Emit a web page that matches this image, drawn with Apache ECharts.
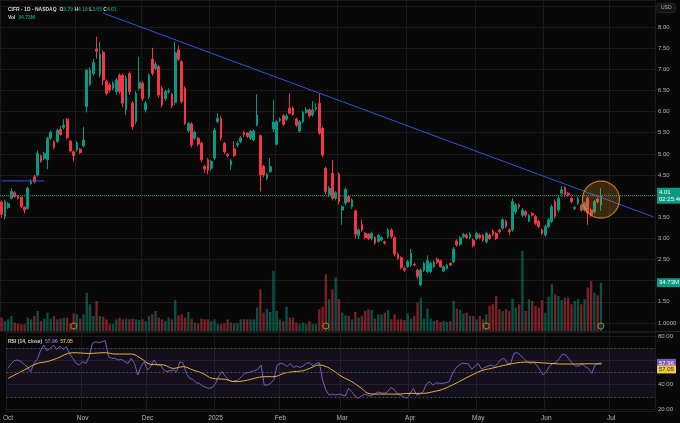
<!DOCTYPE html>
<html><head><meta charset="utf-8">
<script src="https://cdn.jsdelivr.net/npm/echarts@6/dist/echarts.min.js"></script>
<style>html,body{margin:0;padding:0;background:#080808;}#c{width:680px;height:423px;}</style>
</head><body><div id="c"></div>
<script>
// trading days per month (last groups include empty future slots on the time scale)
const monthDays = [
 ['2024-10','1 2 3 4 7 8 9 10 11 14 15 16 17 18 21 22 23 24 25 28 29 30 31'],
 ['2024-11','1 4 5 6 7 8 11 12 13 14 15 18 19 20 21 22 25 26 27 29'],
 ['2024-12','2 3 4 5 6 9 10 11 12 13 16 17 18 19 20 23 24 26 27 30 31'],
 ['2025-01','2 3 6 7 8 10 13 14 15 16 17 21 22 23 24 27 28 29 30 31'],
 ['2025-02','3 4 5 6 7 10 11 12 13 14 18 19 20 21 24 25 26 27 28'],
 ['2025-03','3 4 5 6 7 10 11 12 13 14 17 18 19 20 21 24 25 26 27 28 31'],
 ['2025-04','1 2 3 4 7 8 9 10 11 14 15 16 17 21 22 23 24 25 28 29 30'],
 ['2025-05','1 2 5 6 7 8 9 12 13 14 15 16 19 20 21 22 23 27 28 29 30'],
 ['2025-06','2 3 4 5 6 9 10 11 12 13 16 17 18 20 23 24 25 26 27 30'],
 ['2025-07','1 2 3 7 8 9 10 11 14 15 16 17 18 21']
];
const openP = [3.86,3.52,3.73,3.95,4.08,3.99,3.97,3.74,3.71,4.30,4.46,4.50,4.95,4.89,4.86,5.37,5.29,5.29,5.58,5.62,
5.82,5.30,5.05,5.09,5.11,5.19,6.12,6.64,6.90,7.48,6.87,7.40,6.72,6.63,6.55,6.47,6.86,6.86,6.04,6.90,
6.20,5.76,6.55,6.67,6.04,6.35,7.24,7.02,7.06,6.55,6.31,6.47,6.41,6.22,7.46,7.18,6.55,5.55,5.71,5.37,
5.37,5.25,4.70,4.86,4.66,4.90,5.76,5.84,5.25,4.99,4.74,5.12,5.21,5.29,5.51,5.49,5.37,5.33,5.68,5.43,
4.70,4.42,4.58,5.59,5.23,5.79,5.90,5.82,6.08,6.08,5.82,5.54,5.76,5.98,6.04,5.92,6.06,6.20,5.60,4.66,
4.03,4.54,3.95,4.52,3.67,3.83,3.99,3.75,3.65,3.07,3.33,3.12,3.10,3.00,3.02,2.93,2.96,2.92,3.04,3.20,
3.02,2.63,2.55,2.29,2.33,2.37,2.39,2.25,1.90,2.25,2.22,2.22,2.33,2.51,2.47,2.23,2.29,2.41,2.45,2.94,
2.86,3.04,3.08,3.02,2.96,3.00,3.08,3.07,2.92,3.08,3.18,3.12,3.20,3.24,3.41,3.20,3.20,3.63,3.79,3.55,
3.63,3.41,3.59,3.52,3.40,3.20,3.08,3.28,3.40,3.87,3.67,4.07,4.20,4.07,3.95,3.71,3.83,3.79,3.67,3.95,
3.67,3.63,3.93,3.79];
const closeP = [3.57,3.87,3.82,4.11,3.99,3.95,3.75,3.67,4.19,4.34,4.34,5.01,4.82,5.01,5.37,5.51,5.15,5.56,5.46,5.68,
5.38,5.07,4.96,5.26,5.03,5.33,6.98,6.98,7.16,7.43,7.35,6.75,6.43,6.51,6.67,6.75,6.47,6.20,6.79,6.47,
5.64,6.43,6.69,6.31,6.20,6.86,6.90,7.12,6.39,6.16,6.47,6.49,6.13,7.39,7.24,6.24,5.72,5.72,5.21,5.51,
5.23,4.86,4.64,4.62,4.82,5.56,5.84,5.37,5.05,4.96,4.83,4.96,5.25,5.38,5.45,5.41,5.53,5.54,5.92,4.50,
4.50,4.52,4.70,5.75,5.76,5.82,5.70,5.90,5.96,5.93,5.68,5.76,5.98,6.04,5.90,6.04,6.09,5.49,4.97,4.11,
4.19,3.95,4.08,3.87,3.75,4.16,3.87,3.91,3.10,3.20,3.20,3.02,3.00,3.12,2.89,3.07,3.02,2.89,3.20,3.04,
2.63,2.53,2.31,2.25,2.45,2.65,2.37,2.10,2.25,2.41,2.47,2.41,2.44,2.44,2.33,2.33,2.37,2.37,2.75,2.85,
3.02,3.10,3.02,3.10,2.83,3.12,3.02,2.96,3.12,3.00,3.10,3.00,3.16,3.44,3.28,3.16,3.87,3.79,3.75,3.67,
3.55,3.54,3.55,3.36,3.28,3.12,3.28,3.44,3.75,3.52,3.95,4.15,4.03,4.03,3.87,3.73,3.95,3.67,3.83,3.60,
3.55,3.87,3.87,4.01];
const highP = [3.90,3.92,3.86,4.19,4.12,4.02,4.00,3.76,4.22,4.40,4.50,5.08,4.98,5.05,5.40,5.55,5.32,5.60,5.66,5.82,
5.85,5.33,5.08,5.30,5.14,5.64,7.00,7.05,7.25,7.77,7.65,7.45,6.76,6.68,6.72,6.80,6.90,6.90,6.85,6.95,
6.25,6.48,7.30,6.72,6.25,6.90,7.51,7.18,7.10,6.60,6.52,6.55,6.45,7.65,7.56,7.22,6.60,5.76,5.75,5.55,
5.40,5.28,4.74,4.90,4.86,5.62,5.96,5.90,5.28,5.02,4.88,5.30,5.30,5.42,5.55,5.52,5.56,5.58,6.41,5.46,
4.74,4.56,4.90,6.27,5.80,5.86,5.94,5.95,6.43,6.12,5.86,5.80,6.02,6.10,6.08,6.25,6.20,6.43,5.64,4.70,
4.24,4.85,4.12,4.56,3.78,4.20,4.02,3.95,3.68,3.24,3.45,3.15,3.13,3.16,3.05,3.10,3.05,2.95,3.24,3.24,
3.05,2.66,2.58,2.33,2.49,2.75,2.43,2.28,2.29,2.45,2.60,2.45,2.48,2.55,2.50,2.36,2.40,2.44,2.80,2.98,
3.05,3.13,3.12,3.14,3.00,3.16,3.12,3.10,3.16,3.12,3.22,3.15,3.23,3.48,3.45,3.24,3.95,3.84,3.83,3.72,
3.67,3.58,3.62,3.56,3.44,3.24,3.32,3.48,3.80,3.92,4.00,4.24,4.24,4.10,3.99,3.77,3.99,3.83,3.87,3.99,
3.71,3.91,3.97,4.19];
const lowP = [3.49,3.45,3.70,3.92,3.96,3.92,3.72,3.59,3.68,4.27,4.30,4.46,4.79,4.85,4.64,5.33,5.10,5.25,5.43,5.58,
5.35,5.03,4.82,5.05,5.00,5.15,5.98,6.60,6.85,7.25,6.80,6.63,6.38,6.45,6.50,6.40,6.42,6.10,5.92,6.40,
5.58,5.70,6.50,6.25,5.98,6.30,6.85,6.98,6.33,6.10,6.25,6.42,6.08,6.15,7.20,6.20,5.68,5.50,5.15,5.33,
5.18,4.80,4.55,4.52,4.60,4.85,5.72,5.32,5.00,4.92,4.62,4.92,5.15,5.25,5.40,5.38,5.33,5.30,5.65,4.11,
4.45,4.38,4.55,5.52,5.20,5.75,5.66,5.78,5.93,5.90,5.64,5.50,5.72,5.95,5.86,5.88,6.02,5.45,4.92,4.05,
3.98,3.90,3.90,3.80,3.32,3.78,3.84,3.70,3.00,2.98,3.16,2.98,2.96,2.96,2.85,2.90,2.93,2.85,3.00,3.00,
2.58,2.49,2.27,2.20,2.30,2.33,2.34,2.04,1.86,2.21,2.18,2.18,2.30,2.40,2.30,2.20,2.26,2.34,2.42,2.80,
2.82,3.00,2.99,2.98,2.79,2.96,2.98,2.92,2.88,2.96,3.06,2.96,3.12,3.20,3.24,3.08,3.16,3.58,3.70,3.50,
3.50,3.38,3.52,3.32,3.24,3.08,3.04,3.24,3.36,3.48,3.62,4.02,3.99,3.99,3.83,3.67,3.79,3.63,3.63,3.32,
3.51,3.59,3.83,3.65];
const volumeM = [9.6,7.2,8.4,10.8,6.0,5.3,4.8,4.8,9.6,8.4,10.8,14.4,7.2,8.9,13.2,8.9,10.8,8.4,8.9,9.6,
9.6,5.3,12.7,12.0,8.9,12.0,27.6,19.2,10.8,21.6,10.8,10.3,8.4,4.8,5.3,8.4,9.6,
8.4,8.9,8.4,8.9,8.4,7.9,8.4,7.2,10.8,12.0,14.4,9.6,8.4,7.2,9.6,8.4,22.3,11.3,12.0,9.6,13.7,8.9,6.0,5.3,
8.9,8.4,8.4,7.2,8.4,4.8,4.8,5.5,8.4,6.0,5.5,5.5,8.4,
8.4,8.4,8.4,8.4,16.8,30.0,13.2,16.1,13.7,43.2,14.4,8.4,7.2,17.5,9.6,9.6,6.0,4.8,6.0,4.8,7.2,4.8,4.8,
15.6,17.5,40.8,22.8,30.0,38.4,22.8,13.2,11.3,10.8,8.4,13.7,9.6,11.0,
14.4,15.6,15.1,8.9,12.0,12.0,13.2,15.1,8.4,12.0,8.4,8.4,7.9,12.7,8.9,10.8,20.4,24.0,8.9,16.1,8.9,7.2,
7.9,6.5,7.2,6.5,7.2,21.6,16.1,15.1,12.7,13.2,10.8,10.8,8.4,
10.8,8.4,12.0,18.0,19.2,25.2,15.6,14.4,15.6,14.4,23.3,16.8,19.2,57.6,14.4,22.8,21.6,18.0,16.8,22.3,
13.2,24.7,33.6,26.4,25.2,22.3,24.0,24.0,19.2,21.6,22.8,19.2,22.8,31.2,36.0,27.6,25.7,34.73];
const rsiValues = [53.4,57.5,59.7,60.3,58.9,56.7,54.2,50.7,57.5,60.8,
67.9,72.6,67.9,69.9,72.6,69.0,71.8,69.0,71.2,65.2,
61.6,57.5,56.2,58.9,57.5,63.0,74.0,75.3,74.5,75.3,
76.2,63.0,61.6,61.6,60.3,60.8,58.9,57.5,61.6,57.5,
48.0,54.8,58.9,52.1,54.8,60.3,56.2,56.2,52.1,50.7,
51.5,52.1,50.7,58.9,57.5,49.3,45.2,44.4,41.6,41.1,
38.9,37.8,37.0,37.8,41.1,47.1,50.7,47.1,43.8,42.5,
43.3,43.8,46.6,49.3,49.9,50.7,51.5,52.6,56.2,39.7,
39.7,41.1,44.4,56.2,57.5,57.0,54.8,57.5,54.2,55.3,
54.2,55.3,57.5,58.1,55.3,57.5,58.1,43.8,35.6,31.5,
32.3,31.5,32.3,31.5,30.7,37.0,34.2,30.7,28.8,30.7,
32.3,31.2,30.7,32.3,34.0,33.4,32.9,34.0,37.8,36.2,
32.9,31.2,30.1,28.8,32.9,37.0,31.5,32.3,34.2,40.5,
42.5,39.7,41.6,41.1,41.1,41.6,42.5,48.8,53.4,55.9,
57.5,57.5,57.0,52.6,55.3,57.5,52.6,54.2,55.3,56.2,
54.8,57.5,60.8,61.6,57.5,57.5,65.7,66.3,64.4,61.6,
58.9,57.5,58.3,56.2,52.1,48.0,50.7,55.3,57.5,58.1,
61.6,65.2,64.4,60.8,57.5,55.3,55.3,57.0,54.8,53.4,
49.3,56.2,57.5,57.96];
// RSI-based MA read at sample bars: [bar index, value]
const rsiMA = [[0,45.2],[5,52.1],[9,57.5],[12,58.9],[15,61.6],[20,66.3],[25,65.7],[30,66.3],[33,65.2],[38,65.2],
[41,61.6],[44,56.7],[48,56.2],[51,53.4],[54,54.8],[57,52.1],[60,49.3],[63,45.2],[67,44.4],[70,42.5],[73,43.3],
[76,45.2],[79,46.6],[82,46.6],[85,49.3],[88,50.7],[91,51.5],[93,53.4],[96,56.2],[98,55.0],[100,52.1],[103,46.6],
[106,42.5],[109,37.0],[111,32.9],[113,32.3],[116,32.3],[120,32.3],[124,32.9],[128,32.9],[131,34.2],[134,36.2],
[137,39.7],[140,43.8],[143,47.9],[146,51.5],[149,53.4],[152,55.3],[155,57.0],[158,58.3],[161,58.6],[164,58.1],
[167,57.5],[171,57.0],[175,57.0],[179,57.2],[183,57.05]];
const trendLine = [[31,8.33],[199,3.51]];
const levelLine = [[0,4.36],[13,4.36]];
const focusPoint = [[183,3.92]];
const eventBars = [22,99,148,183];
const priceTickLabels = [1.0,1.5,2.5,3.0,3.5,4.5,5.0,5.5,6.0,6.5,7.0,7.5,8.0];
const rsiTickLabels = [20,40,80];
const rsiLevels = [70,50,30];
const countdown = '02:25:46';

const dates = [];
monthDays.forEach(([ym, days]) => days.split(' ').forEach(d => dates.push(ym + '-' + String(d).padStart(2,'0'))));
const last = closeP.length - 1;
const UP = '#089981', DOWN = '#f23645';
const UPV = 'rgba(8,153,129,0.5)', DOWNV = 'rgba(242,54,69,0.5)';
const TXT = '#b2b5be', GRID = '#1b1b1b';
const HIDDEN = {color:'rgba(0,0,0,0)', width:0};
const monthNames = ['Jan','Feb','Mar','Apr','May','Jun','Jul','Aug','Sep','Oct','Nov','Dec'];
const isMonthStart = (i) => i === 0 || dates[i].slice(0,7) !== dates[i-1].slice(0,7);
const fmtDate = (v) => { const [y,m] = v.split('-'); return m === '01' ? y : monthNames[+m-1]; };
const candles = openP.map((o,i) => [o, closeP[i], lowP[i], highP[i]]);
const lastVol = volumeM[last];
const lastRsi = rsiValues[last], lastMA = rsiMA[rsiMA.length-1][1];

const chart = echarts.init(document.getElementById('c'), null, {renderer:'canvas'});
chart.setOption({
  backgroundColor: '#080808',
  animation: false,
  title: [
    {left: 3, top: 2, text: `{a|CIFR · 1D · NASDAQ}  {b|O}{c|${openP[last].toFixed(2)}} {b|H}{c|${highP[last].toFixed(2)}} {b|L}{c|${lowP[last].toFixed(2)}} {b|C}{c|${closeP[last].toFixed(2)}}`,
     textStyle: {fontSize: 5, rich: {a:{color:'#d1d4dc',fontSize:5}, b:{color:'#d1d4dc',fontSize:5}, c:{color:UP,fontSize:5}}}},
    {left: 3, top: 10, text: `{b|Vol}  {c|${lastVol.toFixed(2)}M}`,
     textStyle: {fontSize: 5, rich: {b:{color:'#d1d4dc',fontSize:5}, c:{color:UP,fontSize:5}}}},
    {left: 3, top: 334, text: `{b|RSI (14, close)}  {p|${lastRsi.toFixed(2)}}  {y|${lastMA.toFixed(2)}}`,
     textStyle: {fontSize: 5, rich: {b:{color:'#d1d4dc',fontSize:5}, p:{color:'#9575cd',fontSize:5}, y:{color:'#e5b73b',fontSize:5}}}}
  ],
  graphic: [
    {type:'line', shape:{x1:0,y1:331.5,x2:680,y2:331.5}, style:{stroke:'#2a2a2a', lineWidth:1}, silent:true},
    {type:'text', right: 4, top: 3, style:{text:'USD', fill:TXT, fontSize:5, backgroundColor:'#161616', borderColor:'#333', borderWidth:0.5, padding:[2,4], borderRadius:2}}
  ],
  grid: [
    {left: 0, right: 25, top: 0, height: 331},
    {left: 0, right: 25, top: 332, height: 79}
  ],
  xAxis: [
    {type:'category', gridIndex:0, data:dates, boundaryGap:true,
     axisLine:{show:false}, axisTick:{show:false}, axisLabel:{show:false},
     splitLine:{show:true, interval:isMonthStart, lineStyle:{color:GRID, width:1}}},
    {type:'category', gridIndex:1, data:dates, boundaryGap:true,
     axisLine:{show:false}, axisTick:{show:false},
     axisLabel:{interval:isMonthStart, formatter:fmtDate, color:TXT, fontSize:6.5, margin:4},
     splitLine:{show:true, interval:isMonthStart, lineStyle:{color:GRID, width:1}}}
  ],
  yAxis: [
    {type:'value', gridIndex:0, position:'right', min:0.81, max:8.64, splitNumber:15, minInterval:0.5, maxInterval:0.5,
     axisLine:{show:false}, axisTick:{show:false},
     axisLabel:{color:TXT, fontSize:6, margin:3,
       formatter: v => { const hit = priceTickLabels.find(t => Math.abs(t - v) < 1e-6); return hit === undefined ? '' : (hit === 1 ? '1.0000' : hit.toFixed(2)); }},
     splitLine:{lineStyle:{color:GRID, width:1}}},
    {type:'value', gridIndex:0, min:0, max:238, show:false, splitLine:{show:false}},
    {type:'value', gridIndex:1, position:'right', min:18.4, max:83.3, splitNumber:3, minInterval:20, maxInterval:20,
     axisLine:{show:false}, axisTick:{show:false},
     axisLabel:{color:TXT, fontSize:6, margin:3,
       formatter: v => rsiTickLabels.some(t => Math.abs(t - v) < 1e-6) ? v.toFixed(2) : ''},
     splitLine:{lineStyle:{color:GRID, width:1}}}
  ],
  series: [
    {name:'Volume', type:'bar', xAxisIndex:0, yAxisIndex:1, data:volumeM, barWidth:'72%', z:1,
     itemStyle:{color: p => closeP[p.dataIndex] >= openP[p.dataIndex] ? UPV : DOWNV},
     markLine:{silent:true, symbol:'none', lineStyle:HIDDEN,
       label:{show:true, position:'end', distance:2, formatter: lastVol.toFixed(2) + 'M', backgroundColor:UP, color:'#fff', fontSize:6, padding:[2,2,1,2]},
       data:[{yAxis:lastVol}]}},
    {name:'Events', type:'scatter', xAxisIndex:0, yAxisIndex:1, z:3,
     data: eventBars.map(i => [i, 3.6]), symbolSize:6,
     itemStyle:{color: p => p.dataIndex === eventBars.length-1 ? '#2a1f3d' : '#3a1618', borderColor: p => p.dataIndex === eventBars.length-1 ? '#9c6ade' : '#8a3a3a', borderWidth:0.8}},
    {name:'CIFR', type:'candlestick', xAxisIndex:0, yAxisIndex:0, data:candles, barWidth:'68%', z:2,
     itemStyle:{color:UP, color0:DOWN, borderColor:UP, borderColor0:DOWN, borderWidth:1},
     markLine:{silent:true, symbol:'none',
       lineStyle:{color:UP, type:'dotted', width:1},
       label:{show:true, position:'end', distance:2, formatter: closeP[last].toFixed(2) + '\n' + countdown,
              backgroundColor:UP, color:'#fff', fontSize:6, lineHeight:7, padding:[1,2,1,2]},
       data:[{yAxis:closeP[last]}]}},
    {name:'Trend', type:'line', xAxisIndex:0, yAxisIndex:0, data:trendLine, symbol:'none', z:4,
     lineStyle:{color:'#2f55d4', width:1}},
    {name:'Level', type:'line', xAxisIndex:0, yAxisIndex:0, data:levelLine, symbol:'none', z:4,
     lineStyle:{color:'#2f55d4', width:1}},
    {name:'Focus', type:'scatter', xAxisIndex:0, yAxisIndex:0, data:focusPoint, symbolSize:37, z:5,
     itemStyle:{color:'rgba(240,150,30,0.28)', borderColor:'#e8952a', borderWidth:1.2}},
    {name:'RSI', type:'line', xAxisIndex:1, yAxisIndex:2, data:rsiValues, symbol:'none', z:3,
     lineStyle:{color:'#7e57c2', width:1},
     markArea:{silent:true, itemStyle:{color:'rgba(126,87,194,0.1)'}, data:[[{yAxis:rsiLevels[0]},{yAxis:rsiLevels[2]}]]},
     markLine:{silent:true, symbol:'none',
       data: rsiLevels.map(v => ({yAxis:v, lineStyle:{color:'#5d6070', type:[2,2], width:0.8}, label:{show:false}}))}},
    {name:'RSI tag', type:'line', xAxisIndex:1, yAxisIndex:2, data:[], z:6,
     markLine:{silent:true, symbol:'none', lineStyle:HIDDEN,
       label:{show:true, position:'end', distance:2, backgroundColor:'#7e57c2', color:'#fff', fontSize:6, padding:[1,2,1,2],
              formatter: lastRsi.toFixed(2)},
       data:[{yAxis:lastRsi}]}},
    {name:'RSI MA', type:'line', xAxisIndex:1, yAxisIndex:2, data:rsiMA, symbol:'none', smooth:0.4, z:3,
     lineStyle:{color:'#e5b73b', width:1},
     markLine:{silent:true, symbol:'none', lineStyle:HIDDEN,
       label:{show:true, position:'end', distance:2, formatter: '{g|}\n{t|' + lastMA.toFixed(2) + '}',
              rich:{g:{height:11}, t:{backgroundColor:'#f0c93f', color:'#222', fontSize:6, padding:[1,2,1,2]}}},
       data:[{yAxis:lastMA}]}}
  ]
});
</script></body></html>
